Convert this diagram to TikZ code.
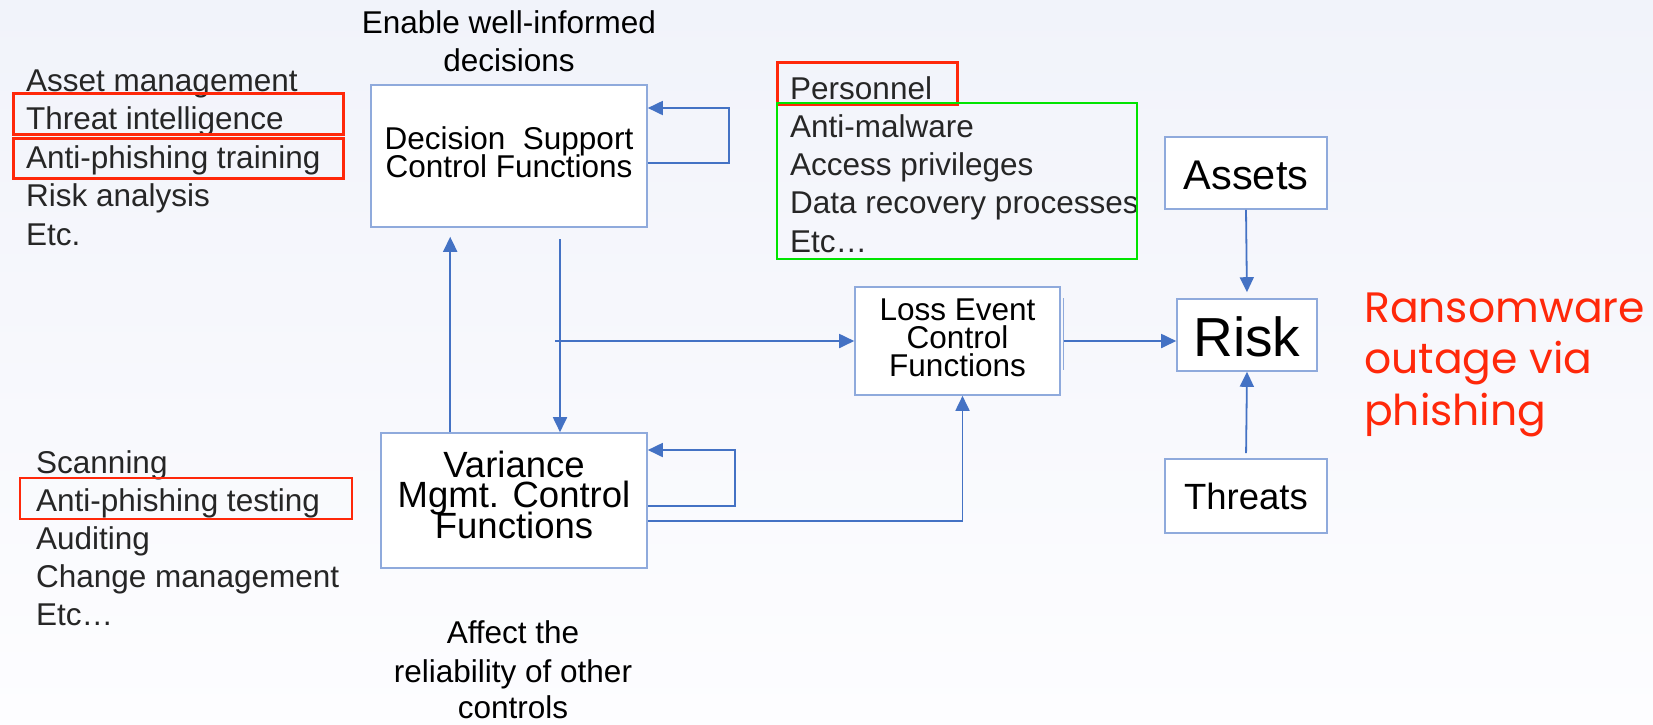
\documentclass[tikz,border=0pt]{standalone}
\usepackage{fontspec}
\setmainfont{Liberation Sans}
\newfontfamily\accentfont{Poppins}
\usetikzlibrary{arrows.meta}

\definecolor{linkblue}{RGB}{68,114,196}
\definecolor{boxblue}{RGB}{143,170,220}
\definecolor{hlred}{RGB}{255,40,10}
\definecolor{hlgreen}{RGB}{0,228,0}
\definecolor{listgrey}{RGB}{38,38,38}
\definecolor{bgtop}{RGB}{241,243,250}
\definecolor{bgbot}{RGB}{253,253,255}

\begin{document}
\begin{tikzpicture}[x=1pt,y=-1pt,
  box/.style={draw=boxblue, line width=1.6pt, fill=white, inner sep=0pt},
  conn/.style={draw=linkblue, line width=1.8pt, -{Triangle[length=15pt,width=14pt]}},
  lst/.style={anchor=base west, inner sep=0pt, text=listgrey, font=\fontsize{31.5}{38}\selectfont},
  lbl/.style={anchor=base, inner sep=0pt, font=\fontsize{31.5}{38}\selectfont},
  redframe/.style={draw=hlred, line width=3pt},
  greenframe/.style={draw=hlgreen, line width=2.8pt}
]
\useasboundingbox (0,0) rectangle (1653,724);
\shade[top color=bgtop, bottom color=bgbot] (0,0) rectangle (1653,724);

% ---- control-function boxes ----
\node[box, minimum width=276pt, minimum height=142pt] (ds) at (509,156) {};
\node[box, minimum width=266pt, minimum height=135pt] (vm) at (514,500.5) {};
\draw[boxblue, line width=1.4pt] (1063.5,298) -- (1063.5,370);
\node[box, minimum width=205pt, minimum height=108pt] (le) at (957.5,341) {};
\node[box, minimum width=162pt, minimum height=72pt] (as) at (1246,173) {};
\node[box, minimum width=140pt, minimum height=72pt] (rk) at (1247,335) {};
\node[box, minimum width=162pt, minimum height=74pt] (th) at (1246,496) {};

% ---- box captions ----
\node[lbl] (ds1) at (509,149) {Decision\ \ Support};
\node[lbl] (ds2) at (509,177) {Control Functions};
\begin{scope}[every node/.style={lbl, font=\fontsize{36.5}{40}\selectfont}]
  \node (vm1) at (514,477) {Variance};
  \node (vm2) at (514,507) {Mgmt. Control};
  \node (vm3) at (514,538) {Functions};
\end{scope}
\node[lbl] (le1) at (957.5,320) {Loss Event};
\node[lbl] (le2) at (957.5,348) {Control};
\node[lbl] (le3) at (957.5,376) {Functions};
\node[lbl, font=\fontsize{41.5}{46}\selectfont] (ast) at (1246,189) {Assets};
\node[lbl, font=\fontsize{55}{60}\selectfont] (rkt) at (1247,356) {Risk};
\node[lbl, font=\fontsize{36.5}{40}\selectfont] (tht) at (1246,509) {Threats};

% ---- notes above and below ----
\node[lbl] (en1) at (509,33) {Enable well-informed};
\node[lbl] (en2) at (509,71) {decisions};
\node[lbl] (af1) at (513,643) {Affect the};
\node[lbl] (af2) at (513,682) {reliability of other};
\node[lbl] (af3) at (513,718) {controls};

% ---- example lists ----
\foreach \t [count=\i] in {Asset management, Threat intelligence, Anti-phishing training, Risk analysis, Etc.}
  \node[lst] (dl\i) at (26,{91+38.6*(\i-1)}) {\t};
\foreach \t [count=\i] in {Scanning, Anti-phishing testing, Auditing, Change management, Etc…}
  \node[lst] (vl\i) at (36,{473+38*(\i-1)}) {\t};
\foreach \t [count=\i] in {Personnel, Anti-malware, Access privileges, Data recovery processes, Etc…}
  \node[lst] (ll\i) at (790,{99+38.25*(\i-1)}) {\t};

% ---- highlight frames ----
\draw[redframe] (13,93) rectangle (343,134);
\draw[redframe] (13,138) rectangle (343,178);
\draw[redframe, line width=2.4pt] (20,478) rectangle (352,519);
\draw[redframe] (777,62) rectangle (957,104);
\draw[greenframe] (777,103) rectangle (1137,259);

% ---- scenario ----
\begin{scope}[every node/.style={anchor=base west, inner sep=0pt, text=hlred, font=\accentfont\fontsize{42.5}{48}\selectfont}]
  \node (sc1) at (1364,322) {Ransomware};
  \node (sc2) at (1364,373) {outage via};
  \node (sc3) at (1364,425) {phishing};
\end{scope}

% ---- connectors ----
\draw[conn] ([yshift=-7pt]ds.east) -- ++(81,0) |- ([yshift=48pt]ds.east);
\draw[conn] ([yshift=-5.5pt]vm.east) -- ++(87,0) |- ([yshift=50.5pt]vm.east);
\draw[conn] ([xshift=70pt]vm.north west) -- ([xshift=80pt,yshift=-9pt]ds.south west);
\coordinate (dtop) at (560,239);
\draw[conn] (dtop) -- (dtop |- vm.north);
\coordinate (hleft) at (555,341);
\draw[conn] (hleft) -- (le.west);
\draw[conn] ([yshift=-20.5pt]vm.east) -| ([xshift=5pt]le.south);
\draw[conn] ([xshift=3pt]le.east) -- (rk.west |- le.east);
\draw[conn, shorten >=6pt] (as.south) -- (rk.north);
\draw[conn, shorten <=5pt] (th.north) -- (rk.south);
\end{tikzpicture}
\end{document}
